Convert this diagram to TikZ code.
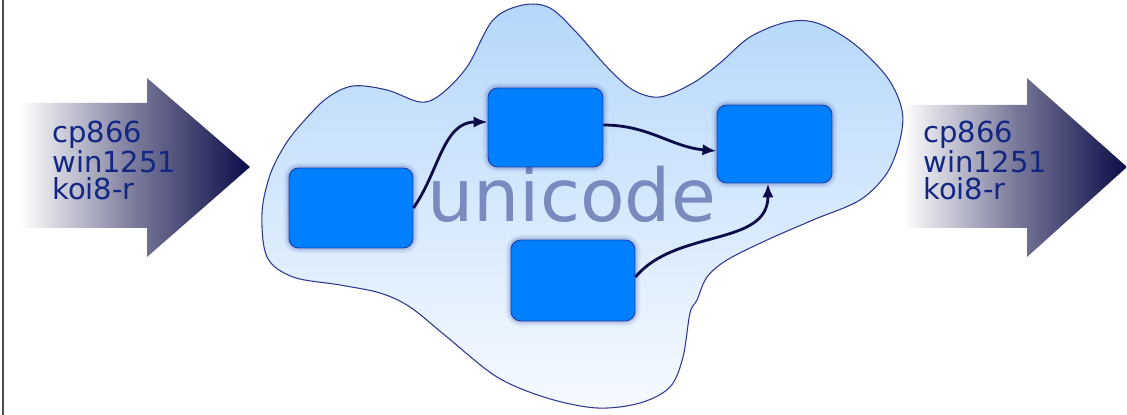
\documentclass[tikz,border=0pt]{standalone}
\usepackage{fontspec}
\newfontfamily\dejavu{DejaVu Sans}
\usetikzlibrary{arrows.meta}
\definecolor{cloudtop}{RGB}{181,215,251}
\definecolor{cloudbot}{RGB}{246,250,255}
\definecolor{cloudline}{RGB}{45,55,145}
\definecolor{boxblue}{RGB}{0,127,255}
\definecolor{boxline}{RGB}{30,60,160}
\definecolor{arrownavy}{RGB}{12,12,72}
\definecolor{labelblue}{RGB}{18,38,130}
\definecolor{ghost}{RGB}{122,137,190}

\begin{document}
\begin{tikzpicture}[x=0.02cm,y=-0.02cm,
    charset/.style={left color=white,right color=arrownavy,middle color=arrownavy!55!white},
    cp/.style={anchor=north west,inner sep=0pt,align=left,text=labelblue,
      font=\dejavu\fontsize{16.5}{15}\selectfont},
    block/.style={draw=boxline,line width=0.5pt,fill=boxblue,rounded corners=5.5pt,
      preaction={draw=boxline,line width=6pt,draw opacity=0.06},
      preaction={draw=boxline,line width=4pt,draw opacity=0.08},
      preaction={draw=boxline,line width=2.4pt,draw opacity=0.12}},
    flow/.style={-{Latex[length=8pt,width=6.5pt]},arrownavy,line width=1.6pt}]
    \useasboundingbox (0,0) rectangle (1127,415);
    \draw[gray!60!black,line width=1.2pt] (3,0) -- (3,415);
    \shade[charset] (20,103) -- (147,103) -- (147,78) -- (250,167) -- (147,257) -- (147,228) -- (20,228) -- cycle;
    \shade[charset] (903,105) -- (1027,105) -- (1027,78) -- (1127,167) -- (1027,257) -- (1027,228) -- (903,228) -- cycle;
    \node[cp] (codesin) at (52,121) {cp866\\win1251\\koi8-r};
    \node[cp] (codesout) at (923,121) {cp866\\win1251\\koi8-r};
    \draw[cloudline,line width=0.6pt,top color=cloudtop,bottom color=cloudbot]
      plot[smooth cycle,tension=0.55] coordinates {(262,213) (270,175) (285,145) (303,122) (327,98) (353,86)
      (387,90) (420,102) (440,95) (467,67) (493,20) (523,5) (550,8) (577,33) (607,67) (633,90) (660,97)
      (693,83) (720,63) (750,37) (787,22) (817,23) (853,43) (887,77) (902,110) (900,140) (887,173)
      (860,200) (813,220) (767,240) (727,260) (707,277) (697,300) (690,313) (683,357) (670,387)
      (640,403) (597,408) (547,398) (497,377) (447,337) (410,307) (380,293) (340,285) (293,277) (267,257)};
    \node[anchor=base west,inner sep=0pt,text=ghost,font=\dejavu\fontsize{41.5}{41.5}\selectfont] (uni) at (427,222) {unicode};
    \node[block,minimum width=2.48cm,minimum height=1.6cm] (enc) at (351,208) {};
    \node[block,minimum width=2.3cm,minimum height=1.58cm] (mid) at (545.5,127.5) {};
    \node[block,minimum width=2.48cm,minimum height=1.62cm] (aux) at (573,280.5) {};
    \node[block,minimum width=2.3cm,minimum height=1.56cm] (dec) at (774.5,144) {};
    \draw[flow] (enc.east) to[out=55,in=180] ([yshift=0.11cm]mid.west);
    \draw[flow] ([yshift=0.05cm]mid.east) to[out=0,in=175] ([yshift=-0.14cm]dec.west);
    \draw[flow] ([yshift=0.07cm]aux.east) to[out=50,in=-90] ([xshift=-0.13cm]dec.south);
\end{tikzpicture}
\end{document}
